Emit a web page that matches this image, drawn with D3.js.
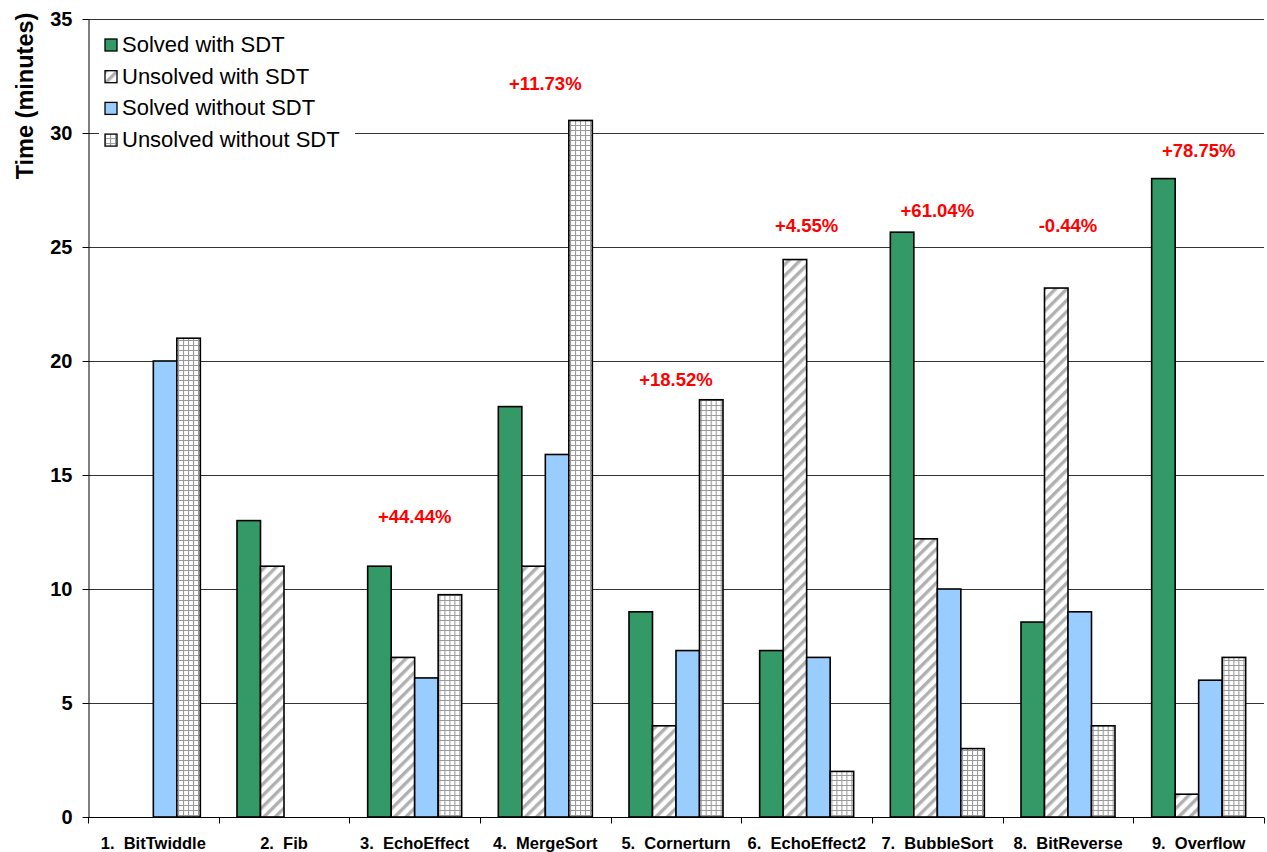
<!DOCTYPE html>
<html>
<head>
<meta charset="utf-8">
<script src="https://cdn.jsdelivr.net/npm/d3@7/dist/d3.min.js"></script>
<style>
  html, body { margin: 0; padding: 0; background: #fff; }
  svg { display: block; font-family: "Liberation Sans", Arial, sans-serif; }
</style>
</head>
<body>
<svg id="chart" width="1267" height="852"></svg>
<script>
// Benchmarks and timings (minutes)
const categories = ["1.  BitTwiddle", "2.  Fib", "3.  EchoEffect", "4.  MergeSort", "5.  Cornerturn",
                    "6.  EchoEffect2", "7.  BubbleSort", "8.  BitReverse", "9.  Overflow"];
const seriesNames = ["Solved with SDT", "Unsolved with SDT", "Solved without SDT", "Unsolved without SDT"];
const solvedWithSDT      = [0, 13, 11, 18, 9, 7.3, 25.65, 8.55, 28];
const unsolvedWithSDT    = [0, 11, 7, 11, 4, 24.45, 12.2, 23.2, 1];
const solvedWithoutSDT   = [20, 0, 6.1, 15.9, 7.3, 7, 10, 9, 6];
const unsolvedWithoutSDT = [21, 0, 9.75, 30.55, 18.3, 2, 3, 4, 7];
// Percentage annotations and the height (in minutes) at which each sits
const changeLabels = [null, null, "+44.44%", "+11.73%", "+18.52%", "+4.55%", "+61.04%", "-0.44%", "+78.75%"];
const changeLabelAt = [null, null, 13.2, 32.15, 19.2, 25.95, 26.6, 25.95, 29.25];
const yTicks = [0, 5, 10, 15, 20, 25, 30, 35];

const series = [solvedWithSDT, unsolvedWithSDT, solvedWithoutSDT, unsolvedWithoutSDT];

const svg = d3.select("#chart");
const margin = { left: 88, right: 1264, top: 19, bottom: 817 };

const x0 = d3.scaleBand().domain(categories).range([margin.left, margin.right])
  .paddingInner(0).paddingOuter(0);
const x1 = d3.scaleBand().domain(d3.range(4)).range([0, x0.bandwidth()])
  .paddingInner(0).paddingOuter(0.78);
const y = d3.scaleLinear().domain([0, 35]).range([margin.bottom, margin.top]);

// Fill patterns
const defs = svg.append("defs");
const hatch = defs.append("pattern").attr("id", "hatch").attr("patternUnits", "userSpaceOnUse")
  .attr("width", 8).attr("height", 8).attr("patternTransform", "rotate(45)");
hatch.append("rect").attr("width", 8).attr("height", 8).attr("fill", "#fff");
hatch.append("rect").attr("x", 0).attr("width", 3.4).attr("height", 8).attr("fill", "#b0b0b0");

const grid = defs.append("pattern").attr("id", "grid").attr("patternUnits", "userSpaceOnUse")
  .attr("width", 5).attr("height", 5);
grid.append("rect").attr("width", 5).attr("height", 5).attr("fill", "#fff");
grid.append("path").attr("d", "M0,0.5H5M0.5,0V5").attr("stroke", "#9a9a9a").attr("stroke-width", 1.2);

const fills = ["#339966", "url(#hatch)", "#99ccff", "url(#grid)"];

// Horizontal gridlines
svg.append("g").selectAll("line").data(yTicks.filter(t => t > 0)).join("line")
  .attr("x1", margin.left).attr("x2", margin.right)
  .attr("y1", d => Math.round(y(d)) + 0.5).attr("y2", d => Math.round(y(d)) + 0.5)
  .attr("stroke", "#333").attr("stroke-width", 1);

// Bars
const groups = svg.append("g").selectAll("g").data(categories).join("g")
  .attr("transform", d => `translate(${x0(d)},0)`);
groups.selectAll("rect").data((d, i) => series.map((s, k) => ({ k, v: s[i] })).filter(e => e.v > 0))
  .join("rect")
  .attr("x", d => x1(d.k))
  .attr("width", x1.bandwidth())
  .attr("y", d => y(d.v))
  .attr("height", d => y(0) - y(d.v))
  .attr("fill", d => fills[d.k])
  .attr("stroke", "#000").attr("stroke-width", 1.6);

// Legend (white panel over the gridlines)
const legend = svg.append("g").attr("transform", "translate(99,27)");
legend.append("rect").attr("x", 0).attr("y", 0).attr("width", 256).attr("height", 128).attr("fill", "#fff");
seriesNames.forEach((name, k) => {
  const row = legend.append("g").attr("transform", `translate(6,${11 + k * 31.7})`);
  row.append("rect").attr("width", 12).attr("height", 12).attr("y", 1)
    .attr("fill", fills[k]).attr("stroke", "#000").attr("stroke-width", 1.3);
  row.append("text").attr("x", 17).attr("y", 14).attr("font-size", 22).attr("fill", "#000").text(name);
});

// Y axis
const yAxis = svg.append("g").attr("transform", `translate(${margin.left + 0.5},0)`)
  .call(d3.axisLeft(y).tickValues(yTicks).tickSize(6).tickPadding(10).tickSizeOuter(0));
yAxis.select(".domain").attr("stroke", "#000");
yAxis.selectAll(".tick line").attr("stroke", "#000");
yAxis.selectAll("text").attr("font-size", 20).attr("font-weight", "bold").attr("fill", "#000")
  .attr("font-family", "Liberation Sans, Arial, sans-serif");

// X axis with tick marks at category boundaries
const xAxis = svg.append("g").attr("transform", `translate(0,${margin.bottom + 0.5})`);
xAxis.append("line").attr("x1", margin.left).attr("x2", margin.right).attr("stroke", "#000");
xAxis.selectAll(".bound").data(categories.concat([null])).join("line").attr("class", "bound")
  .attr("x1", (d, i) => Math.round(margin.left + i * x0.bandwidth()) + 0.5)
  .attr("x2", (d, i) => Math.round(margin.left + i * x0.bandwidth()) + 0.5)
  .attr("y1", 0).attr("y2", 6).attr("stroke", "#000");
xAxis.selectAll("text").data(categories).join("text")
  .attr("x", d => x0(d) + x0.bandwidth() / 2).attr("y", 31)
  .attr("text-anchor", "middle").attr("font-size", 16.5).attr("font-weight", "bold")
  .attr("fill", "#000").style("white-space", "pre").text(d => d);

// Y axis title
svg.append("text").attr("transform", "translate(33,96) rotate(-90)")
  .attr("text-anchor", "middle").attr("font-size", 23.5).attr("font-weight", "bold")
  .attr("fill", "#000").text("Time (minutes)");

// Percentage change annotations
svg.append("g").selectAll("text").data(categories.map((c, i) => ({ c, t: changeLabels[i], v: changeLabelAt[i] }))
  .filter(d => d.t)).join("text")
  .attr("x", d => x0(d.c) + x0.bandwidth() / 2).attr("y", d => y(d.v))
  .attr("dy", "0.35em").attr("text-anchor", "middle")
  .attr("font-size", 18.5).attr("font-weight", "bold").attr("fill", "#ff0000").text(d => d.t);
</script>
</body>
</html>
